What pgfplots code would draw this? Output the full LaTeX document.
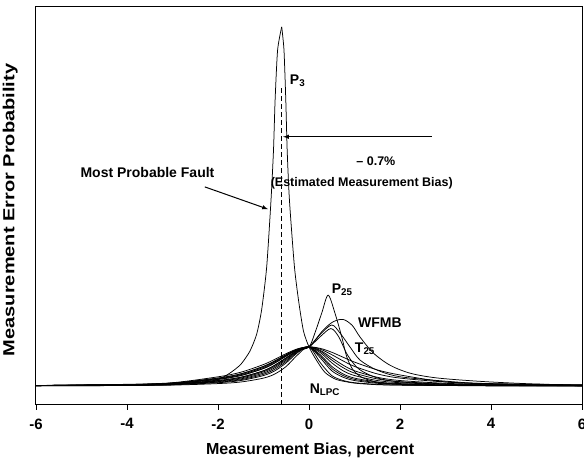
\documentclass[border=0pt]{standalone}
\usepackage{pgfplots}
\pgfplotsset{compat=1.18}
\usepackage{fontspec}
\setmainfont{Liberation Sans}
\begin{document}
\begin{tikzpicture}[curve/.style={black, line width=0.75pt, smooth, mark=none}]
\begin{axis}[
  at={(0,0)}, anchor=south west,
  width=546pt, height=398pt, scale only axis,
  xmin=-6, xmax=6, ymin=0, ymax=1,
  xtick={-6,-4,-2,0,2,4,6}, ytick=\empty,
  xtick pos=left, tick align=outside, major tick length=5pt,
  axis line style={line width=1pt},
  every tick/.style={black, line width=0.8pt},
  /pgf/number format/assume math mode=true,
  xticklabel style={font=\bfseries\fontsize{15}{15}\selectfont, yshift=-5pt},
  xlabel={Measurement Bias, percent},
  ylabel={\scalebox{1.25}[1]{Measurement Error Probability}},
  xlabel style={font=\bfseries\fontsize{16}{16}\selectfont, at={(axis description cs:0.502,-0.113)}, anchor=center},
  ylabel style={font=\bfseries\fontsize{16}{16}\selectfont, at={(axis description cs:-0.047,0.49)}, anchor=center},
  clip=true,
]
% bundle of curves through the common point
\addplot[curve] coordinates {(-6,0.048)(-4,0.049)(-3,0.050)(-2,0.0538)(-1.5,0.0578)(-1,0.0676)(-0.75,0.078)(-0.5,0.097)(-0.25,0.126)(0,0.146)(0.25,0.106)(0.5,0.074)(0.75,0.0615)(1,0.056)(1.5,0.0518)(2,0.050)(3,0.049)(4,0.048)(6,0.048)};
\addplot[curve] coordinates {(-6,0.049)(-4,0.050)(-3,0.051)(-2,0.056)(-1.5,0.0615)(-1,0.074)(-0.75,0.086)(-0.5,0.106)(-0.25,0.1315)(0,0.146)(0.25,0.118)(0.5,0.086)(0.75,0.0697)(1,0.0615)(1.5,0.0545)(2,0.0518)(3,0.0497)(4,0.049)(6,0.0484)};
\addplot[curve] coordinates {(-6,0.049)(-4,0.050)(-3,0.053)(-2,0.0615)(-1.5,0.0697)(-1,0.086)(-0.75,0.1001)(-0.5,0.1185)(-0.25,0.137)(0,0.146)(0.25,0.123)(0.5,0.0918)(0.75,0.074)(1,0.0645)(1.5,0.056)(2,0.0527)(3,0.050)(4,0.0492)(6,0.0485)};
\addplot[curve] coordinates {(-6,0.049)(-4,0.050)(-3,0.052)(-2,0.0587)(-1.5,0.0655)(-1,0.0802)(-0.75,0.0937)(-0.5,0.1129)(-0.25,0.135)(0,0.146)(0.25,0.126)(0.5,0.097)(0.75,0.078)(1,0.0676)(1.5,0.0578)(2,0.0538)(3,0.0506)(4,0.0495)(6,0.0487)};
\addplot[curve] coordinates {(-6,0.049)(-4,0.051)(-3,0.054)(-2,0.0645)(-1.5,0.074)(-1,0.0918)(-0.75,0.1058)(-0.5,0.1229)(-0.25,0.139)(0,0.146)(0.25,0.1315)(0.5,0.106)(0.75,0.086)(1,0.074)(1.5,0.0615)(2,0.056)(3,0.0518)(4,0.050)(6,0.049)};
\addplot[curve] coordinates {(-6,0.049)(-4,0.051)(-3,0.055)(-2,0.0676)(-1.5,0.0782)(-1,0.097)(-0.75,0.1107)(-0.5,0.1264)(-0.25,0.1402)(0,0.146)(0.25,0.135)(0.5,0.1129)(0.75,0.0937)(1,0.0802)(1.5,0.0655)(2,0.0587)(3,0.0531)(4,0.0509)(6,0.0493)};
\addplot[curve] coordinates {(-6,0.049)(-4,0.050)(-3,0.052)(-2,0.0574)(-1.5,0.0635)(-1,0.0771)(-0.75,0.090)(-0.5,0.1095)(-0.25,0.1334)(0,0.146)(0.25,0.137)(0.5,0.1185)(0.75,0.1001)(1,0.086)(1.5,0.0697)(2,0.0615)(3,0.0545)(4,0.0518)(6,0.0497)};
\addplot[curve] coordinates {(-6,0.049)(-4,0.052)(-3,0.056)(-2,0.0708)(-1.5,0.0823)(-1,0.1017)(-0.75,0.1149)(-0.5,0.1292)(-0.25,0.1412)(0,0.146)(0.25,0.1402)(0.5,0.1264)(0.75,0.1107)(1,0.097)(1.5,0.0782)(2,0.0676)(3,0.0578)(4,0.0538)(6,0.0506)};
\addplot[curve] coordinates {(-6,0.049)(-4,0.051)(-3,0.055)(-2,0.066)(-1.5,0.076)(-1,0.0945)(-0.75,0.1084)(-0.5,0.1247)(-0.25,0.1396)(0,0.146)(0.25,0.1422)(0.5,0.1325)(0.75,0.120)(1,0.1078)(1.5,0.0882)(2,0.0755)(3,0.058)(4,0.053)(6,0.050)};
% P25
\addplot[curve] coordinates {(-6,0.049)(-4,0.050)(-3,0.053)(-2,0.060)(-1.5,0.0676)(-1,0.0833)(-0.75,0.097)(-0.5,0.1158)(-0.25,0.136)(0,0.146)(0.13,0.181)(0.28,0.231)(0.42,0.276)(0.57,0.231)(0.72,0.171)(0.83,0.121)(0.97,0.088)(1.19,0.068)(1.63,0.055)(2.5,0.050)(4,0.049)(6,0.048)};
% WFMB
\addplot[curve] coordinates {(-6,0.049)(-4,0.051)(-3,0.055)(-2,0.0676)(-1.5,0.0782)(-1,0.097)(-0.75,0.1107)(-0.5,0.1264)(-0.25,0.1402)(0,0.146)(0.31,0.188)(0.53,0.209)(0.75,0.215)(0.95,0.200)(1.12,0.171)(1.41,0.131)(1.78,0.100)(2.22,0.080)(2.81,0.068)(3.82,0.059)(4.92,0.053)(6,0.050)};
% T25
\addplot[curve] coordinates {(-6,0.049)(-4,0.050)(-3,0.053)(-2,0.0615)(-1.5,0.0697)(-1,0.086)(-0.75,0.1001)(-0.5,0.1185)(-0.25,0.137)(0,0.146)(0.25,0.178)(0.50,0.201)(0.68,0.181)(0.90,0.146)(1.12,0.113)(1.49,0.088)(2.0,0.071)(3.1,0.059)(4,0.053)(6,0.049)};
\addplot[curve] coordinates {(-6,0.049)(-4,0.051)(-3,0.054)(-2,0.0645)(-1.5,0.074)(-1,0.0918)(-0.75,0.1058)(-0.5,0.1229)(-0.25,0.139)(0,0.146)(0.25,0.172)(0.48,0.192)(0.65,0.172)(0.85,0.125)(1.1,0.090)(1.5,0.068)(2,0.058)(3,0.052)(4,0.050)(6,0.049)};
% P3
\addplot[curve, tension=0.4] coordinates {(-6,0.048)(-4,0.049)(-3,0.051)(-2.4,0.056)(-2.0,0.064)(-1.74,0.080)(-1.5,0.102)(-1.30,0.135)(-1.15,0.178)(-1.04,0.240)(-0.93,0.347)(-0.835,0.515)(-0.78,0.641)(-0.745,0.766)(-0.69,0.892)(-0.60,0.950)};
\addplot[curve, tension=0.4] coordinates {(-0.60,0.950)(-0.55,0.892)(-0.51,0.766)(-0.48,0.641)(-0.43,0.515)(-0.32,0.347)(-0.22,0.255)(-0.12,0.185)(0,0.146)(0.15,0.115)(0.35,0.082)(0.6,0.064)(1,0.055)(1.5,0.051)(2,0.050)(3,0.049)(6,0.048)};
% estimated bias
\addplot[black, line width=0.8pt, dash pattern=on 5pt off 3pt] coordinates {(-0.60,0)(-0.60,0.80)};
% annotations
\draw[-latex, line width=1pt] (axis cs:-2.29,0.548) -- (axis cs:-0.90,0.492);
\draw[-latex, line width=1pt] (axis cs:2.70,0.674) -- (axis cs:-0.57,0.674);
\node[font=\bfseries\fontsize{14}{14}\selectfont] at (axis cs:-3.55,0.585) {Most Probable Fault};
\node[font=\bfseries\fontsize{12.5}{12.5}\selectfont] at (axis cs:1.47,0.613) {– 0.7\%};
\node[font=\bfseries\fontsize{12.5}{12.5}\selectfont] at (axis cs:1.16,0.558) {(Estimated Measurement Bias)};
\node[font=\bfseries\fontsize{14}{14}\selectfont] at (axis cs:-0.25,0.815) {P\textsubscript{3}};
\node[font=\bfseries\fontsize{14}{14}\selectfont] at (axis cs:0.73,0.290) {P\textsubscript{25}};
\node[font=\bfseries\fontsize{14}{14}\selectfont] at (axis cs:1.56,0.206) {WFMB};
\node[font=\bfseries\fontsize{14}{14}\selectfont] at (axis cs:1.23,0.141) {T\textsubscript{25}};
\node[font=\bfseries\fontsize{14}{14}\selectfont] at (axis cs:0.35,0.038) {N\textsubscript{LPC}};
\end{axis}
\pgfresetboundingbox
\path[use as bounding box] (-36pt,-55pt) rectangle (548pt,405pt);
\end{tikzpicture}
\end{document}
